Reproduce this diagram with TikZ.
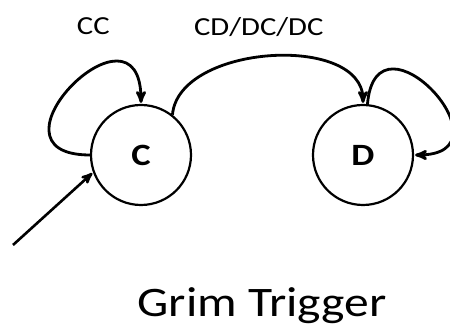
\documentclass[tikz,border=0pt]{standalone}
\usepackage{fontspec}
\setmainfont{Carlito}[FakeStretch=1.18]
\usetikzlibrary{arrows,automata,positioning}

\begin{document}
\begin{tikzpicture}[x=1pt,y=1pt,>=stealth',shorten >=1pt,auto,node distance=222pt,
  every state/.style={draw,line width=2.2pt,minimum size=100pt,inner sep=0pt,font=\fontsize{31}{36}\selectfont\bfseries},
  every edge/.style={draw,line width=2.8pt},
  lbl/.style={font=\fontsize{26}{30}\selectfont}]
\useasboundingbox (0,0) rectangle (450,328);
\node[state]   (C)      at (141,173)    {C};
\node[state]   (D) [right of=C]         {D};
\coordinate (start) at (13,83);

\path[->] (C)  edge[out=180,in=90,looseness=4.1]  node[lbl,pos=0.62,above=30pt]{CC}  (C)
(C.52) edge[out=85,in=90,looseness=0.95]  node[lbl,pos=0.46,above=16pt]{CD/DC/DC}  (D)
(D) edge[out=85,in=0,looseness=3.8]  (D);
\draw[->,line width=2.6pt] (start) -- (C.200);

\node[anchor=base,font=\fontsize{42}{48}\selectfont] (title) at (262,11) {Grim Trigger};
\end{tikzpicture}
\end{document}
